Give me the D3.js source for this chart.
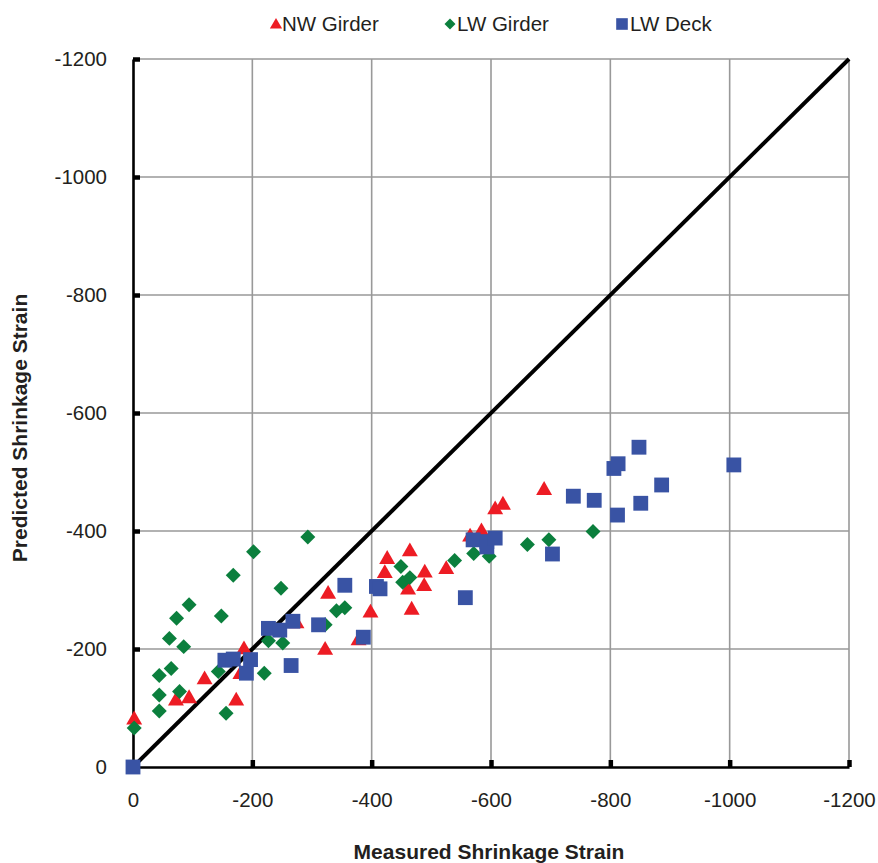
<!DOCTYPE html>
<head>
  <meta charset="utf-8">
  <script src="https://d3js.org/d3.v7.min.js"></script>
  <style>
    body { margin:0; padding:0; background:#fff; }
    text { font-family: "Liberation Sans", Arial, sans-serif; fill:#231f20; }
    .axis-title { font-family: "Liberation Sans Narrow", "Arial Narrow", "Liberation Sans", sans-serif; font-weight:bold; font-size:21px; }
  </style>
</head>
<body>
<script>
  var width = 878, height = 863;

  // [measured, predicted] shrinkage strain
  var nwGirder = [[-2,-80],[-72,-112],[-94,-116],[-120,-148],[-173,-112],[-180,-157],[-186,-199],
    [-274,-243],[-322,-198],[-327,-293],[-378,-214],[-398,-261],[-422,-328],[-426,-352],[-461,-300],
    [-464,-365],[-467,-266],[-488,-306],[-489,-329],[-525,-335],[-565,-390],[-584,-399],[-607,-436],
    [-620,-444],[-689,-469]];
  var lwGirder = [[-2,-66],[-44,-95],[-44,-122],[-44,-155],[-64,-167],[-61,-218],[-73,-252],[-78,-128],
    [-85,-204],[-94,-275],[-143,-162],[-148,-256],[-156,-91],[-168,-325],[-202,-365],[-220,-159],
    [-227,-214],[-248,-303],[-251,-210],[-293,-390],[-322,-241],[-341,-265],[-355,-270],[-449,-340],
    [-452,-313],[-464,-321],[-539,-350],[-571,-362],[-597,-357],[-661,-377],[-697,-385],[-771,-399]];
  var lwDeck = [[0,0],[-154,-181],[-168,-183],[-190,-159],[-197,-182],[-227,-235],[-246,-232],
    [-265,-172],[-268,-247],[-311,-241],[-355,-308],[-386,-220],[-408,-306],[-414,-302],[-557,-287],
    [-570,-385],[-593,-382],[-593,-373],[-607,-388],[-703,-361],[-738,-459],[-773,-452],[-806,-506],
    [-812,-427],[-813,-514],[-848,-542],[-851,-447],[-886,-478],[-1007,-512]];
  var equality = [[0,0],[-1200,-1200]];
  var ticks = [0,-200,-400,-600,-800,-1000,-1200];

  var x = d3.scaleLinear().domain([0,-1200]).range([133,849]);
  var y = d3.scaleLinear().domain([0,-1200]).range([767,59]);

  var svg = d3.select("body").append("svg")
    .attr("width", width).attr("height", height);

  // grid
  svg.append("g").selectAll("line").data(ticks.slice(1)).enter().append("line")
    .attr("x1", d => x(d)).attr("x2", d => x(d))
    .attr("y1", y(0)).attr("y2", y(-1200))
    .attr("stroke", "#999").attr("stroke-width", 1.6);
  svg.append("g").selectAll("line").data(ticks.slice(1)).enter().append("line")
    .attr("y1", d => y(d)).attr("y2", d => y(d))
    .attr("x1", x(0)).attr("x2", x(-1200))
    .attr("stroke", "#999").attr("stroke-width", 1.6);

  // axes
  var fmt = d => String(d);
  var xAxis = svg.append("g").attr("transform", "translate(0," + y(0) + ")")
    .call(d3.axisBottom(x).tickValues(ticks).tickFormat(fmt).tickSize(-7).tickSizeOuter(0).tickPadding(25));
  var yAxis = svg.append("g").attr("transform", "translate(" + x(0) + ",0)")
    .call(d3.axisLeft(y).tickValues(ticks).tickFormat(fmt).tickSize(-7).tickSizeOuter(0).tickPadding(26));
  [xAxis, yAxis].forEach(function(a) {
    a.select(".domain").attr("stroke", "#000").attr("stroke-width", 2.6);
    a.selectAll(".tick line").attr("stroke", "#000").attr("stroke-width", 4.5);
    a.selectAll(".tick text").style("font-size", "20.5px").attr("fill", "#231f20")
      .style("font-family", "'Liberation Sans', Arial, sans-serif");
  });

  // 1:1 line
  svg.append("path").datum(equality)
    .attr("d", d3.line().x(d => x(d[0])).y(d => y(d[1])))
    .attr("stroke", "#000").attr("stroke-width", 4).attr("fill", "none");

  var tri = d3.symbol().type(d3.symbolTriangle).size(110);
  var dia = d3.symbol().type(d3.symbolSquare).size(112);
  var sq = d3.symbol().type(d3.symbolSquare).size(220);

  svg.append("g").selectAll("path").data(nwGirder).enter().append("path")
    .attr("d", tri).attr("fill", "#ed1c24")
    .attr("transform", d => "translate(" + x(d[0]) + "," + y(d[1]) + ")");
  svg.append("g").selectAll("path").data(lwGirder).enter().append("path")
    .attr("d", dia).attr("fill", "#0b7f3d")
    .attr("transform", d => "translate(" + x(d[0]) + "," + y(d[1]) + ") rotate(45)");
  svg.append("g").selectAll("path").data(lwDeck).enter().append("path")
    .attr("d", sq).attr("fill", "#3953a4")
    .attr("transform", d => "translate(" + x(d[0]) + "," + y(d[1]) + ")");

  // legend
  var legend = svg.append("g").style("font-size", "20.5px");
  legend.append("path").attr("d", d3.symbol().type(d3.symbolTriangle).size(65))
    .attr("fill", "#ed1c24").attr("transform", "translate(276,25)");
  legend.append("text").attr("x", 282).attr("y", 31).text("NW Girder");
  legend.append("path").attr("d", d3.symbol().type(d3.symbolSquare).size(60))
    .attr("fill", "#0b7f3d").attr("transform", "translate(450,24) rotate(45)");
  legend.append("text").attr("x", 457).attr("y", 31).text("LW Girder");
  legend.append("path").attr("d", d3.symbol().type(d3.symbolSquare).size(135))
    .attr("fill", "#3953a4").attr("transform", "translate(622,24)");
  legend.append("text").attr("x", 630).attr("y", 31).text("LW Deck");

  // titles
  svg.append("text").attr("class", "axis-title")
    .attr("x", 489).attr("y", 859).attr("text-anchor", "middle")
    .text("Measured Shrinkage Strain");
  svg.append("text").attr("class", "axis-title")
    .attr("transform", "translate(27,428) rotate(-90)").attr("text-anchor", "middle")
    .text("Predicted Shrinkage Strain");
</script>
</body>
